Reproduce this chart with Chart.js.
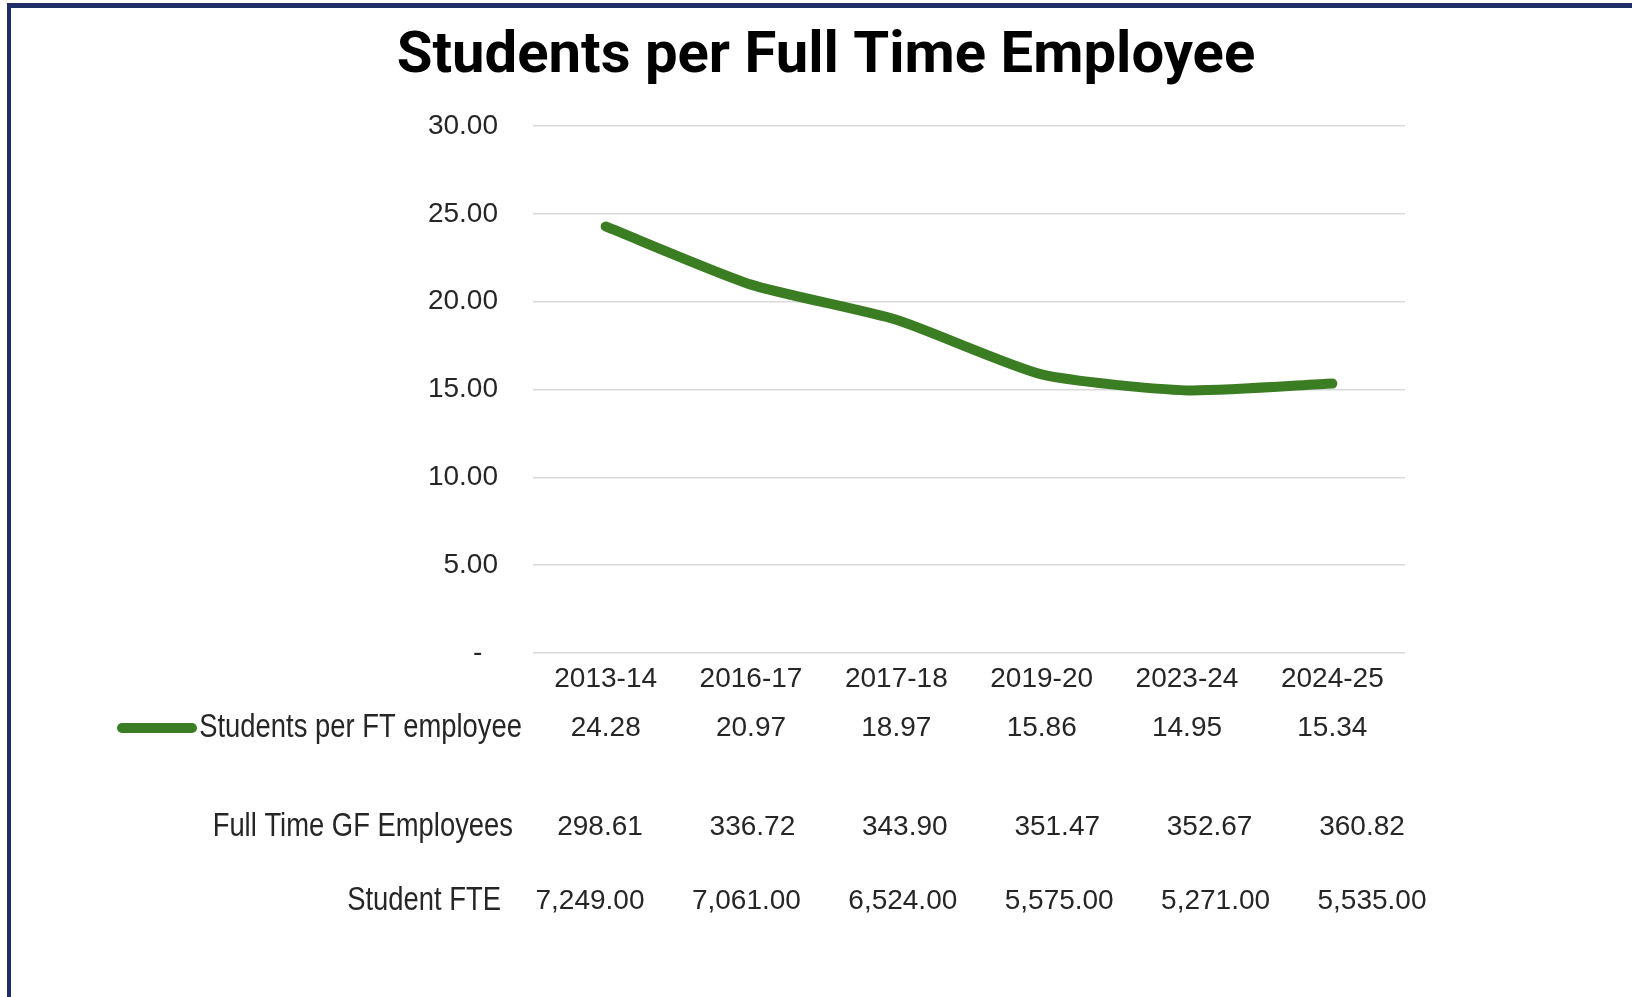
<!DOCTYPE html>
<html>
<head>
<meta charset="utf-8">
<title>Students per Full Time Employee</title>
<script src="https://cdn.jsdelivr.net/npm/chart.js@4.4.1/dist/chart.umd.min.js"></script>
<style>
    html, body
    {
        margin: 0;
        padding: 0;
        background: #ffffff;
        overflow: hidden;
    }

    #frame
    {
        position: absolute;
        left: 7px;
        top: 3px;
        right: 0;
        bottom: 0;
        border-top: 5px solid #212d67;
        border-left: 4px solid #212d67;
        pointer-events: none;
    }

    #chart
    {
        position: absolute;
        left: 0;
        top: 0;
    }
</style>
</head>
<body>
<canvas id="chart" width="1632" height="997"></canvas>
<div id="frame"></div>

<script>
const TITLE = 'Students per Full Time Employee';

const years = ['2013-14', '2016-17', '2017-18', '2019-20', '2023-24', '2024-25'];

// students per FT employee (plotted)
const studentsPerEmployee = [24.28, 20.97, 18.97, 15.86, 14.95, 15.34];

// rows listed under the chart
const fullTimeEmployees = [298.61, 336.72, 343.90, 351.47, 352.67, 360.82];
const studentFte = [7249.00, 7061.00, 6524.00, 5575.00, 5271.00, 5535.00];

const yTicks = [0, 5, 10, 15, 20, 25, 30];

const GREEN = '#3b7d23';
const TEXT = '#262626';
const NUM_FAMILY = '"Liberation Sans", Arial, sans-serif';
const NUM_FONT = '28px ' + NUM_FAMILY;
const LABEL_FONT = '33px ' + NUM_FAMILY;
const NARROW = 0.83; // horizontal squeeze for the row captions

function fmt(v)
{
    return v.toLocaleString('en-US', { minimumFractionDigits: 2, maximumFractionDigits: 2 });
}

// right aligned, horizontally condensed caption
function narrowText(ctx, text, right, y)
{
    ctx.save();
    ctx.font = LABEL_FONT;
    ctx.textAlign = 'right';
    ctx.translate(right, y);
    ctx.scale(NARROW, 1);
    ctx.fillText(text, 0, 0);
    ctx.restore();
}

// draws the title, the legend key and the value rows under the axis
const tablePlugin =
{
    id: 'dataTable',
    afterDraw(chart)
    {
        const ctx = chart.ctx;
        const xs = chart.scales.x;

        ctx.save();

        ctx.fillStyle = '#000000';
        ctx.font = 'bold 58px Roboto, "Liberation Sans", sans-serif';
        ctx.textAlign = 'center';
        ctx.textBaseline = 'middle';
        ctx.fillText(TITLE, 826, 57);

        // row 1: legend key + values under each category
        const row1Y = 728;
        ctx.strokeStyle = chart.data.datasets[0].borderColor;
        ctx.lineWidth = 10;
        ctx.lineCap = 'round';
        ctx.beginPath();
        ctx.moveTo(122, row1Y);
        ctx.lineTo(192, row1Y);
        ctx.stroke();

        ctx.fillStyle = TEXT;
        narrowText(ctx, chart.data.datasets[0].label, 522, row1Y);

        ctx.font = NUM_FONT;
        ctx.textAlign = 'center';
        studentsPerEmployee.forEach((v, i) =>
        {
            ctx.fillText(fmt(v), xs.getPixelForValue(i), row1Y);
        });

        // rows 2 and 3 sit in their own, slightly wider columns
        const rows =
        [
            { label: 'Full Time GF Employees', values: fullTimeEmployees, y: 827, labelRight: 513, start: 600, step: 152.4 },
            { label: 'Student FTE', values: studentFte, y: 901, labelRight: 501, start: 590, step: 156.4 }
        ];

        for (const row of rows)
        {
            narrowText(ctx, row.label, row.labelRight, row.y);

            ctx.font = NUM_FONT;
            ctx.textAlign = 'center';
            row.values.forEach((v, i) =>
            {
                ctx.fillText(fmt(v), row.start + i * row.step, row.y);
            });
        }

        ctx.restore();
    }
};

const data =
{
    labels: years,
    datasets:
    [
        {
            label: 'Students per FT employee',
            data: studentsPerEmployee,
            borderColor: GREEN,
            backgroundColor: GREEN,
            borderWidth: 10,
            borderCapStyle: 'round',
            borderJoinStyle: 'round',
            tension: 0.2,
            pointRadius: 0,
            fill: false
        }
    ]
};

const config =
{
    type: 'line',
    data: data,
    options:
    {
        responsive: false,
        animation: false,
        layout:
        {
            padding: { left: 0, right: 227, top: 126, bottom: 300 }
        },
        plugins:
        {
            legend: { display: false },
            title: { display: false },
            tooltip: { enabled: false }
        },
        scales:
        {
            x:
            {
                offset: true,
                grid: { display: false, drawTicks: false },
                border: { display: false },
                ticks:
                {
                    color: TEXT,
                    font: { family: NUM_FAMILY, size: 28 },
                    padding: 9,
                    maxRotation: 0,
                    autoSkip: false
                },
                afterFit: (scale) => { scale.height = 44; }
            },
            y:
            {
                min: 0,
                max: 30,
                afterBuildTicks: (scale) => { scale.ticks = yTicks.map(v => ({ value: v })); },
                grid:
                {
                    color: '#d9d9d9',
                    lineWidth: 1.5,
                    drawTicks: false
                },
                border: { display: false },
                ticks:
                {
                    color: TEXT,
                    font: { family: NUM_FAMILY, size: 28 },
                    padding: 35,
                    callback: (v) => v === 0 ? '-  ' : Number(v).toFixed(2)
                },
                afterFit: (scale) => { scale.width = 533; }
            }
        }
    },
    plugins: [tablePlugin]
};

const chart = new Chart(document.getElementById('chart').getContext('2d'), config);
</script>
</body>
</html>
